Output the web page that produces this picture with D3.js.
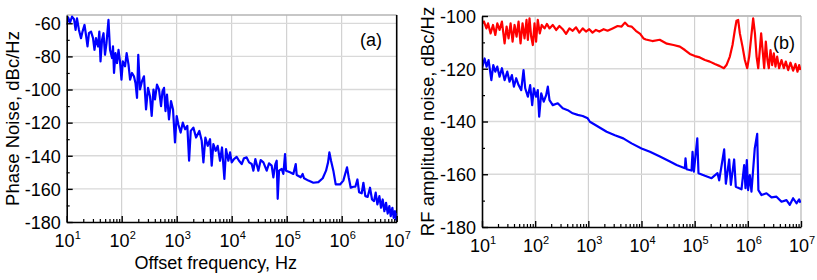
<!DOCTYPE html>
<html>
<head>
<meta charset="utf-8">
<script src="https://cdn.jsdelivr.net/npm/d3@7"></script>
<style>
  body { margin: 0; background: #fff; }
  svg { display: block; }
  text { font-family: "Liberation Sans", Arial, sans-serif; fill: #000; }
</style>
</head>
<body>
<svg id="chart" width="817" height="280"></svg>
<script>
// decade exponents for the log axes (10^1 .. 10^7)
const decades = [1, 2, 3, 4, 5, 6, 7];
const yTicksA = [-180, -160, -140, -120, -100, -80, -60];
const yTicksB = [-180, -160, -140, -120, -100];

// (a) phase noise, [Hz, dBc/Hz]
const phaseNoise = [
  [10,-61],[10.6,-56.4],[11.5,-59.6],[12.5,-56],[13.6,-57.5],[14.5,-64],[15.4,-57],[16.7,-64],
  [18.2,-69],[19.4,-65],[21.1,-61],[22.4,-67],[23.9,-74],[25.4,-66],[27.7,-65],[30.1,-69],
  [32,-76],[34.1,-69],[37.1,-74],[39.2,-65],[41.2,-83],[43.9,-70],[46.7,-66],[49.7,-79],
  [52.9,-72],[57.5,-58],[61.3,-76],[66.7,-81],[69.5,-74],[72.5,-90],[77.1,-78],[82.2,-84],
  [87.5,-76],[93.1,-83],[99,-94],
  [105,-83],[115,-86],[123,-78],[133,-85],[142,-94],[154,-90],[167,-92],[178,-96],[190,-105],
  [200,-79],[215,-100],[234,-95],[254,-92],[277,-112],[301,-99],[327,-104],[351,-116],[378,-100],
  [403,-106],[438,-97],[477,-100],[519,-110],[552,-101],[588,-99],[625,-113],[666,-103],
  [724,-118],[788,-107],[857,-112],[931,-132],[1000,-116],
  [1070,-121],[1180,-126],[1290,-120],[1420,-124],[1560,-122],[1680,-143],[1800,-125],[2010,-123],
  [2250,-129],[2580,-125],[2850,-131],[3060,-144],[3320,-129],[3660,-134],[4040,-130],[4330,-146],
  [4640,-133],[5120,-137],[5560,-134],[6130,-143],[6670,-135],[7360,-154],[7890,-136],[8690,-143],
  [9330,-138],[1e4,-144],
  [1.1e4,-142],[1.23e4,-140.7],[1.36e4,-143],[1.52e4,-145],[1.67e4,-141.5],[1.87e4,-141],
  [2.07e4,-144],[2.31e4,-145],[2.48e4,-149],[2.69e4,-142],[3.05e4,-149],[3.37e4,-142.6],
  [3.77e4,-144],[4.33e4,-149],[4.77e4,-144.6],[5.33e4,-146],[5.72e4,-153],[6.22e4,-145],
  [6.58e4,-143],[6.86e4,-166],[7.26e4,-149],[8.11e4,-148],[8.69e4,-151],[9.33e4,-139],[9.72e4,-149],
  [1.15e5,-150],[1.32e5,-151],[1.46e5,-145],[1.52e5,-151.6],[1.8e5,-153],[1.95e5,-151],
  [2.07e5,-153.6],[2.48e5,-155],[3.05e5,-156.3],[3.77e5,-155.9],[4.52e5,-153.6],[5.19e5,-149],
  [5.65e5,-144],[5.97e5,-138],[6.4e5,-143],[7.05e5,-149],[7.78e5,-157.3],[9.33e5,-157.3],
  [1.07e6,-155],[1.18e6,-150],[1.25e6,-147],[1.34e6,-153],[1.46e6,-159.3],[1.63e6,-158.7],
  [1.77e6,-158.7],[1.93e6,-154.3],[2.07e6,-162],[2.31e6,-162.7],[2.48e6,-156.3],[2.69e6,-164.4],
  [2.97e6,-164.8],[3.27e6,-159.3],[3.56e6,-166.4],[3.87e6,-167.4],[4.15e6,-162.3],[4.45e6,-169.4],
  [4.84e6,-164.4],[5.19e6,-171.4],[5.56e6,-166.4],[5.97e6,-173.5],[6.4e6,-168.4],[6.86e6,-174.9],
  [7.36e6,-170.4],[7.78e6,-176.5],[8.34e6,-171.4],[8.81e6,-177.5],[9.33e6,-173.5],[9.72e6,-178.5],
  [1e7,-174.5]
];

// (b) RF amplitude noise, upper (red) trace
const amNoiseRed = [
  [10,-102.8],[10.9,-102.1],[12.1,-104.7],[13,-102.8],[14.5,-106.6],[16.1,-103.4],[17.8,-107.2],
  [19.4,-102.8],[21.4,-105.3],[23.7,-102.1],[26.6,-110.4],[29,-104],[31.6,-108.5],[34.5,-102.8],
  [37.6,-109.7],[41,-103.4],[44.7,-107.8],[48.7,-102.1],[53.1,-110.4],[57.9,-102.8],[63.1,-108.5],
  [68.8,-101.5],[72.9,-109.1],[78.3,-100.9],[84.1,-107.8],[90.4,-111],[97.2,-102.8],[104,-109.7],
  [112,-101.5],[122,-106.6],[133,-103.4],[150,-104.7],[166,-103],[186,-104.7],[214,-103.4],
  [248,-105.3],[286,-103.8],[330,-105],[381,-106.8],[441,-104.7],[508,-105.6],[587,-104.3],
  [678,-106.3],[783,-104.7],[904,-105.9],[1040,-105],[1200,-106.3],[1390,-105.3],[1610,-105.9],
  [1940,-105],[2300,-105.6],[2860,-104.7],[3550,-103.8],[4220,-104],[4870,-102.5],[5620,-103.8],
  [6500,-104],[7830,-105.6],[9440,-106.8],[1.09e4,-108.5],[1.21e4,-108.9],[1.6e4,-109.5],
  [2.2e4,-109],[3e4,-110.5],[4e4,-111],
  [5.27e4,-111.6],[6.55e4,-112.9],[8.13e4,-114.4],[1.01e5,-115.2],[1.25e5,-115.7],[1.56e5,-116.7],
  [1.93e5,-117.3],[2.4e5,-118.2],[2.98e5,-119],[3.54e5,-119.8],[3.97e5,-118.6],[4.59e5,-115.4],
  [5.15e5,-111],[5.7e5,-105.3],[6.12e5,-101.8],[6.58e5,-101.5],[7.08e5,-106.6],[7.94e5,-111.6],
  [8.79e5,-116.7],[9.72e5,-119.8],[1.06e6,-115.4],[1.16e6,-107.8],[1.26e6,-100.9],[1.36e6,-106.6],
  [1.46e6,-115.4],[1.57e6,-119.8],[1.68e6,-112.9],[1.78e6,-106.6],[1.92e6,-114.2],[2.03e6,-119.8],
  [2.18e6,-109.7],[2.34e6,-116.7],[2.48e6,-119.8],[2.67e6,-112.9],[2.87e6,-118.6],[3.08e6,-114.2],
  [3.31e6,-119.2],[3.56e6,-115.4],[3.88e6,-119.8],[4.3e6,-116.7],[4.75e6,-119.8],[5.18e6,-117.3],
  [5.73e6,-120.5],[6.34e6,-117.7],[7.11e6,-120.7],[7.87e6,-118.2],[8.59e6,-121.1],[9.23e6,-118.6],
  [9.77e6,-120.5]
];

// (b) RF amplitude noise, lower (blue) trace
const amNoiseBlue = [
  [10,-119.8],[11.2,-116.1],[12.2,-119.2],[13.3,-116.7],[15,-124.3],[16.3,-118.6],[17.8,-121.1],
  [19.4,-119.2],[21.4,-123],[23.7,-119.8],[26.6,-124.3],[29.9,-121.1],[33,-124.9],[36.5,-122.4],
  [39.8,-126.8],[44,-123.6],[48.7,-126.2],[54.7,-128.1],[60.4,-120.5],[65,-127.4],[72.9,-130.6],
  [80.5,-126.2],[87.9,-133.8],[94.4,-127.4],[104,-130.6],[112,-128.1],[119,-138.2],[130,-129.3],
  [145,-132.5],[161,-130],[173,-126.8],[186,-131.9],[214,-133.8],[266,-133.1],[330,-135],
  [410,-135.7],[508,-136.9],[631,-137.5],[783,-137.9],[972,-138.8],
  [1070,-140.1],[1540,-142],[2210,-143.9],[3160,-145.2],[4540,-146.4],[6500,-148.3],[1e4,-150.2],
  [1.44e4,-151.5],[2.22e4,-153.3],[3.42e4,-155.2],[4.57e4,-156.5],[6.55e4,-157.7],[6.73e4,-154],
  [7.03e4,-158.1],[8.73e4,-158.6],[9.12e4,-151.5],[9.66e4,-159],[1.12e5,-146.4],[1.18e5,-159.6],
  [1.56e5,-160.6],[2.08e5,-161.5],[2.69e5,-159.6],[2.89e5,-162.3],[3.59e5,-150.6],[3.86e5,-163.6],
  [4.46e5,-154.4],[4.79e5,-164],[5.53e5,-154.4],[5.94e5,-164.7],[7.6e5,-165.7],[8.53e5,-156.5],
  [9.04e5,-165.3],[9.57e5,-154.6],[1.01e6,-166],[1.09e6,-160.3],[1.17e6,-166.6],[1.35e6,-150.2],
  [1.5e6,-144.7],[1.58e6,-166],[1.81e6,-167.9],[2.24e6,-167.2],[2.79e6,-168.8],[3.46e6,-168.5],
  [4.3e6,-170.4],[5.33e6,-169.8],[6.16e6,-171.6],[7.11e6,-169.1],[8.22e6,-171],[9.23e6,-169.5],
  [9.77e6,-170.8]
];

const svg = d3.select('#chart');

const panel = (
  selection,
  { id, series, left, right, top, bottom, yDomain, yTicks, yLabel, yLabelX, xLabel, tag, tagX, tagY, rightEdge }
) => {
  const xScale = d3.scaleLog().domain([10, 1e7]).range([left, right]);
  const yScale = d3.scaleLinear().domain(yDomain).range([bottom, top]);
  const g = selection.append('g');

  // light grid
  g.selectAll('line.vgrid')
    .data(decades.slice(1, -1))
    .join('line')
    .attr('x1', (d) => xScale(10 ** d))
    .attr('x2', (d) => xScale(10 ** d))
    .attr('y1', top)
    .attr('y2', bottom)
    .attr('stroke', '#c8c8c8')
    .attr('stroke-width', 1);

  g.selectAll('line.hgrid')
    .data(yTicks.filter((d) => d > yDomain[0]))
    .join('line')
    .attr('x1', left)
    .attr('x2', right)
    .attr('y1', (d) => yScale(d))
    .attr('y2', (d) => yScale(d))
    .attr('stroke', '#d9d9d9')
    .attr('stroke-width', 1.3);

  // top / right frame
  g.append('line')
    .attr('x1', left)
    .attr('x2', right)
    .attr('y1', top)
    .attr('y2', top)
    .attr('stroke', '#b5b5b5')
    .attr('stroke-width', 1.3);
  g.append('line')
    .attr('x1', right)
    .attr('x2', right)
    .attr('y1', top)
    .attr('y2', bottom)
    .attr('stroke', rightEdge)
    .attr('stroke-width', rightEdge === '#000' ? 1.6 : 1.2);

  g.append('clipPath')
    .attr('id', id)
    .append('rect')
    .attr('x', left)
    .attr('y', top)
    .attr('width', right - left)
    .attr('height', bottom - top);

  const lineGenerator = d3
    .line()
    .x((d) => xScale(d[0]))
    .y((d) => yScale(d[1]));

  g.append('g')
    .attr('clip-path', `url(#${id})`)
    .selectAll('path')
    .data(series)
    .join('path')
    .attr('d', (d) => lineGenerator(d.values))
    .attr('fill', 'none')
    .attr('stroke', (d) => d.color)
    .attr('stroke-width', 2.2)
    .attr('stroke-linejoin', 'round');

  // minor ticks
  const minorX = [];
  decades.slice(0, -1).forEach((e) => {
    for (let k = 2; k < 10; k++) minorX.push(k * 10 ** e);
  });
  g.append('g')
    .attr('transform', `translate(0,${bottom})`)
    .call(d3.axisBottom(xScale).tickValues(minorX).tickSize(-3).tickSizeOuter(0).tickFormat(''))
    .call((a) => a.select('.domain').remove())
    .call((a) => a.selectAll('line').attr('stroke-width', 1.2));

  const minorY = d3.range(yDomain[0] + 10, yDomain[1], 20).filter((d) => d % 20 !== 0);
  g.append('g')
    .attr('transform', `translate(${left},0)`)
    .call(d3.axisLeft(yScale).tickValues(minorY).tickSize(-3).tickSizeOuter(0).tickFormat(''))
    .call((a) => a.select('.domain').remove())
    .call((a) => a.selectAll('line').attr('stroke-width', 1.2));

  // major axes
  const xAxis = g
    .append('g')
    .attr('transform', `translate(0,${bottom})`)
    .call(
      d3.axisBottom(xScale)
        .tickValues(decades.map((e) => 10 ** e))
        .tickSize(-6)
        .tickSizeOuter(0)
        .tickFormat('')
    );
  xAxis.select('.domain').attr('stroke-width', 1.6);
  xAxis.selectAll('line').attr('stroke-width', 1.4);

  const xLabels = g
    .selectAll('text.xtick')
    .data(decades)
    .join('text')
    .attr('class', 'xtick')
    .attr('x', (d) => xScale(10 ** d) + 1)
    .attr('y', bottom + 25)
    .attr('text-anchor', 'middle')
    .attr('font-size', 18);
  xLabels.append('tspan').text('10');
  xLabels
    .append('tspan')
    .attr('font-size', 11)
    .attr('dy', -8)
    .text((d) => d);

  const yAxis = g
    .append('g')
    .attr('transform', `translate(${left},0)`)
    .call(d3.axisLeft(yScale).tickValues(yTicks).tickSize(-6).tickSizeOuter(0).tickPadding(6));
  yAxis.select('.domain').attr('stroke-width', 1.6);
  yAxis.selectAll('line').attr('stroke-width', 1.4);
  yAxis
    .selectAll('text')
    .attr('font-size', 18)
    .attr('font-family', '"Liberation Sans", Arial, sans-serif')
    .attr('fill', '#000')
    .attr('dy', '0.35em')
    .text((d) => (d < 0 ? '-' + Math.abs(d) : d));

  g.append('text')
    .attr('transform', `translate(${yLabelX},${(top + bottom) / 2}) rotate(-90)`)
    .attr('text-anchor', 'middle')
    .attr('dy', '0.35em')
    .attr('font-size', 18.5)
    .text(yLabel);

  if (xLabel) {
    g.append('text')
      .attr('x', (left + right) / 2 - 16)
      .attr('y', bottom + 47)
      .attr('text-anchor', 'middle')
      .attr('font-size', 18)
      .text(xLabel);
  }

  g.append('text')
    .attr('x', tagX)
    .attr('y', tagY)
    .attr('text-anchor', 'middle')
    .attr('font-size', 18)
    .text(tag);
};

panel(svg, {
  id: 'clipA',
  series: [{ values: phaseNoise, color: '#0000ff' }],
  left: 66.7,
  right: 396.7,
  top: 15,
  bottom: 222,
  yDomain: [-180, -55],
  yTicks: yTicksA,
  yLabel: 'Phase Noise, dBc/Hz',
  yLabelX: 13,
  xLabel: 'Offset frequency, Hz',
  tag: '(a)',
  tagX: 371,
  tagY: 46,
  rightEdge: '#000',
});

panel(svg, {
  id: 'clipB',
  series: [
    { values: amNoiseRed, color: '#ff0000' },
    { values: amNoiseBlue, color: '#0000ff' },
  ],
  left: 482,
  right: 801,
  top: 16,
  bottom: 227,
  yDomain: [-180, -100],
  yTicks: yTicksB,
  yLabel: 'RF amplitude noise, dBc/Hz',
  yLabelX: 428,
  xLabel: null,
  tag: '(b)',
  tagX: 784,
  tagY: 49,
  rightEdge: '#b5b5b5',
});
</script>
</body>
</html>
